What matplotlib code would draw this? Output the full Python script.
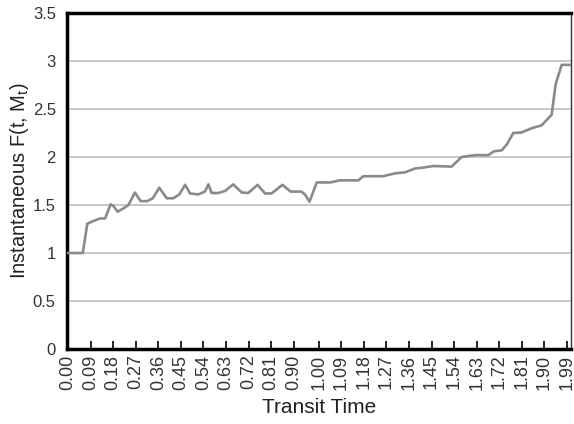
import numpy as np
import matplotlib.pyplot as plt
from matplotlib.ticker import FuncFormatter

plt.rcParams['font.family'] = ['Liberation Sans', 'DejaVu Sans']

# Values
transit_time = [0.00, 0.059, 0.077, 0.101, 0.128, 0.148, 0.170, 0.181, 0.198, 0.221,
                0.241, 0.267, 0.290, 0.316, 0.338, 0.364, 0.394, 0.420, 0.444, 0.467,
                0.487, 0.520, 0.546, 0.560, 0.573, 0.600, 0.626, 0.659, 0.693, 0.719,
                0.756, 0.786, 0.812, 0.855, 0.888, 0.930, 0.945, 0.963, 0.980, 0.992,
                1.045, 1.085, 1.158, 1.178, 1.257, 1.304, 1.344, 1.384, 1.417, 1.457,
                1.530, 1.570, 1.625, 1.676, 1.700, 1.730, 1.750, 1.776, 1.808, 1.850,
                1.889, 1.929, 1.945, 1.969, 2.000]
inst_f = [1.0, 1.0, 1.305, 1.333, 1.36, 1.36, 1.507, 1.49, 1.43, 1.465,
          1.5, 1.63, 1.54, 1.54, 1.57, 1.68, 1.57, 1.57, 1.61, 1.71,
          1.62, 1.61, 1.64, 1.715, 1.625, 1.625, 1.646, 1.715, 1.63, 1.625,
          1.71, 1.62, 1.62, 1.71, 1.64, 1.64, 1.61, 1.535, 1.65, 1.735,
          1.735, 1.757, 1.757, 1.80, 1.80, 1.83, 1.84, 1.88, 1.89, 1.906,
          1.90, 2.0, 2.02, 2.02, 2.06, 2.07, 2.13, 2.25, 2.255, 2.30,
          2.33, 2.44, 2.76, 2.96, 2.96]

x_ticks = [0.00, 0.09, 0.18, 0.27, 0.36, 0.45, 0.54, 0.63, 0.72, 0.81, 0.90,
           1.00, 1.09, 1.18, 1.27, 1.36, 1.45, 1.54, 1.63, 1.72, 1.81, 1.90, 1.99]
y_ticks = [0, 0.5, 1, 1.5, 2, 2.5, 3, 3.5]

fig = plt.figure(figsize=(5.74, 4.24), dpi=100)
ax = fig.add_axes([0.1167, 0.1769, 0.878, 0.7924])

# Horizontal grid
for y in y_ticks[1:-1]:
    ax.axhline(y, color="#c8c8c8", lw=1.4, zorder=1)

ax.plot(transit_time, inst_f, color="#8a8a8a", lw=1.9, zorder=3)

ax.set_xlim(-0.004, 2.006)
ax.set_ylim(0, 3.5)
ax.set_xticks(x_ticks)
ax.set_xticklabels(["{:.2f}".format(t) for t in x_ticks], rotation=90)
ax.set_yticks(y_ticks)
ax.yaxis.set_major_formatter(FuncFormatter(lambda v, p: "{:g}".format(v)))

ax.tick_params(axis="x", direction="in", length=6, width=1.2, colors="black",
               labelcolor="#333333", labelsize=13, pad=4)
ax.tick_params(axis="y", length=0, labelcolor="#333333", labelsize=12, pad=8)

for side in ["left", "bottom", "top"]:
    ax.spines[side].set_linewidth(2.5)
    ax.spines[side].set_color("black")
ax.spines["right"].set_linewidth(1.0)
ax.spines["right"].set_color("#333333")

ax.set_xlabel("Transit Time", fontsize=15, color="#222222", labelpad=6)
ax.set_ylabel(r"Instantaneous F(t, M$_\mathregular{t}$)", fontsize=14.5,
              color="#222222")
ax.yaxis.set_label_coords(-0.072, 0.5)

plt.savefig("out.png", dpi=100)
